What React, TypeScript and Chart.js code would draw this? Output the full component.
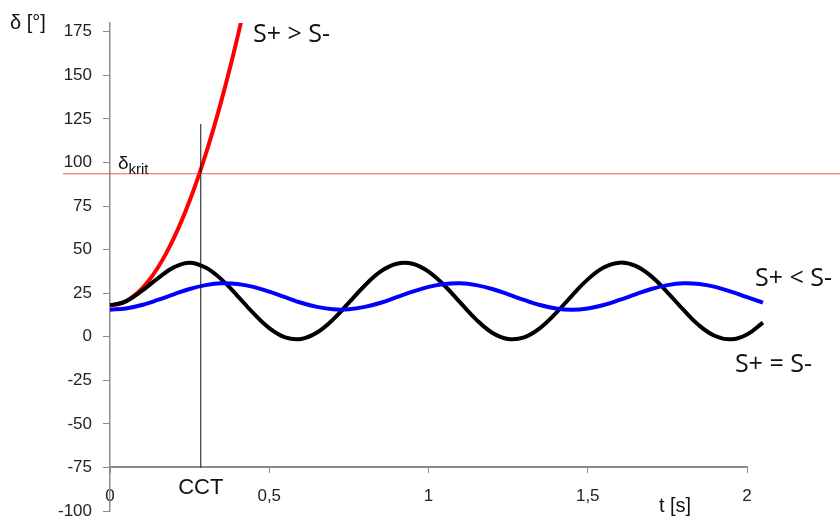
import React, { useEffect, useRef } from 'react';
import { Chart, registerables } from 'chart.js';

Chart.register(...registerables);

// ---- data ----
const timeValues = [
  0, 0.05, 0.1, 0.15, 0.2, 0.25, 0.3, 0.35, 0.4, 0.45,
  0.5, 0.55, 0.6, 0.65, 0.7, 0.75, 0.8, 0.85, 0.9, 0.95,
  1.0, 1.05, 1.1, 1.15, 1.2, 1.25, 1.3, 1.35, 1.4, 1.45,
  1.5, 1.55, 1.6, 1.65, 1.7, 1.75, 1.8, 1.85, 1.9, 1.95,
  2.0, 2.05,
];
// S+ = S- (black)
const equalValues = [
  18, 20.3, 26.3, 33.5, 39.8, 42.5, 39.7, 32.9, 23.5, 13.5,
  4.9, -0.4, -1.3, 2.4, 9.8, 19.5, 29.4, 37.5, 41.9, 41.9,
  37.4, 29.4, 19.5, 9.8, 2.3, -1.3, -0.4, 4.9, 13.5, 23.5,
  32.9, 39.7, 42.5, 40.6, 34.6, 25.5, 15.5, 6.4, 0.4, -1.5,
  1.3, 8.1,
];
// S+ < S- (blue)
const lessValues = [
  15.5, 16.2, 18.2, 21.1, 24.3, 27.4, 29.6, 30.7, 30.3, 28.6,
  25.9, 22.7, 19.5, 17.1, 15.7, 15.7, 17.1, 19.5, 22.7, 25.9,
  28.6, 30.3, 30.7, 29.6, 27.4, 24.3, 21.1, 18.2, 16.2, 15.5,
  16.2, 18.2, 21.1, 24.3, 27.4, 29.6, 30.7, 30.3, 28.6, 25.9,
  22.7, 19.5,
];
// S+ > S- (red)
const redTime = [
  0, 0.025, 0.05, 0.075, 0.1, 0.125, 0.15, 0.175, 0.2, 0.225,
  0.25, 0.275, 0.3, 0.325, 0.35, 0.375, 0.4, 0.425,
];
const greaterValues = [
  18, 18.6, 20.4, 23.4, 27.6, 33, 39.6, 47.4, 56.4, 66.6,
  78, 90.6, 104.4, 119.4, 135.6, 153, 171.6, 191.4,
];
const deltaKrit = 93.5;
const critLineTime = [-0.148, 2.3];
const cctTime = 0.285;
const cctRange = [-75, 122];

const xTickValues = [0, 0.5, 1, 1.5, 2];
const xTickLabels = ['0', '0,5', '1', '1,5', '2'];
const yTickValues = [-100, -75, -50, -25, 0, 25, 50, 75, 100, 125, 150, 175];
const yMin = -100;
const yMax = 180;
const xMin = 0;
const xMax = 2;
const xAxisCrossing = -75;

const pts = (xs: number[], ys: number[]) => xs.map((x, i) => ({ x, y: ys[i] }));

const SANS = '"Liberation Sans", Arial, sans-serif';
const LABEL = '"Open Sans", "Noto Sans", sans-serif';

const annotationPlugin = {
  id: 'annotations',
  afterDraw(chart: any) {
    const { ctx, chartArea } = chart;
    const x = chart.scales.x;
    const y = chart.scales.y;
    ctx.save();
    ctx.textBaseline = 'middle';
    ctx.fillStyle = '#111';

    // axis titles
    ctx.textAlign = 'left';
    ctx.font = `20px ${SANS}`;
    ctx.fillText('δ [°]', chartArea.left - 100, chartArea.top);
    ctx.textAlign = 'center';
    ctx.font = `20px ${SANS}`;
    ctx.fillText('t [s]', x.getPixelForValue(1.774), y.getPixelForValue(xAxisCrossing) + 39);

    // CCT
    ctx.font = `22px ${SANS}`;
    ctx.fillText('CCT', x.getPixelForValue(cctTime), y.getPixelForValue(xAxisCrossing) + 21);

    // δkrit
    ctx.textAlign = 'left';
    ctx.font = `19px ${SANS}`;
    const dx = x.getPixelForValue(0.025);
    ctx.fillText('δ', dx, y.getPixelForValue(99.5));
    const dw = ctx.measureText('δ').width;
    ctx.font = `15px ${SANS}`;
    ctx.fillText('krit', dx + dw, y.getPixelForValue(95.5));

    // curve labels
    ctx.font = `25px ${LABEL}`;
    ctx.fillText('S+ > S-', x.getPixelForValue(0.449), y.getPixelForValue(173));
    ctx.fillText('S+ < S-', x.getPixelForValue(2.025), y.getPixelForValue(33));
    ctx.fillText('S+ = S-', x.getPixelForValue(1.962), y.getPixelForValue(-16));
    ctx.restore();
  },
};

export default function App() {
  const ref = useRef<HTMLCanvasElement | null>(null);

  useEffect(() => {
    document.body.style.margin = '0';
    const canvas = ref.current;
    if (!canvas) return;
    const overflowRight = { left: 0, top: 0, right: 20, bottom: 0 };
    const chart = new Chart(canvas, {
      type: 'line',
      data: {
        datasets: [
          {
            data: pts(critLineTime, critLineTime.map(() => deltaKrit)),
            borderColor: 'rgba(228,40,40,0.75)',
            borderWidth: 1,
            pointRadius: 0,
            clip: false as any,
          },
          {
            data: pts([cctTime, cctTime], cctRange),
            borderColor: '#111',
            borderWidth: 1,
            pointRadius: 0,
          },
          {
            data: pts(timeValues, lessValues),
            borderColor: '#0000ff',
            borderWidth: 4,
            pointRadius: 0,
            tension: 0.4,
            clip: overflowRight as any,
          },
          {
            data: pts(timeValues, equalValues),
            borderColor: '#000000',
            borderWidth: 4,
            pointRadius: 0,
            tension: 0.4,
            clip: overflowRight as any,
          },
          {
            data: pts(redTime, greaterValues),
            borderColor: '#ff0000',
            borderWidth: 4,
            pointRadius: 0,
            tension: 0.4,
          },
        ],
      },
      options: {
        responsive: false,
        animation: false,
        layout: { padding: { left: 0, top: 23, right: 93, bottom: 11 } },
        plugins: { legend: { display: false }, tooltip: { enabled: false } },
        scales: {
          x: {
            type: 'linear',
            position: { y: xAxisCrossing } as any,
            afterDataLimits: (s: any) => {
              s.min = xMin;
              s.max = xMax;
            },
            afterBuildTicks: (s: any) => {
              s.ticks = xTickValues.map((v) => ({ value: v }));
            },
            afterFit: (s: any) => {
              s.paddingLeft = 0;
              s.paddingRight = 0;
            },
            border: { display: true, color: '#8c8c8c', width: 2 },
            grid: { drawOnChartArea: false, drawTicks: true, tickLength: 5, color: '#8c8c8c' },
            ticks: {
              padding: 14,
              color: '#222',
              font: { family: SANS, size: 17 },
              callback: (v: any) => {
                const i = xTickValues.indexOf(Number(v));
                return i >= 0 ? xTickLabels[i] : '';
              },
            },
          },
          y: {
            type: 'linear',
            min: yMin,
            max: yMax,
            afterBuildTicks: (s: any) => {
              s.ticks = yTickValues.map((v) => ({ value: v }));
            },
            afterFit: (s: any) => {
              s.width = 110;
              s.paddingTop = 0;
              s.paddingBottom = 0;
            },
            border: { display: true, color: '#8c8c8c', width: 1.5 },
            grid: { drawOnChartArea: false, drawTicks: true, tickLength: 7, color: '#8c8c8c' },
            ticks: {
              padding: 11,
              color: '#222',
              font: { family: SANS, size: 17 },
            },
          },
        },
      },
      plugins: [annotationPlugin],
    });
    return () => chart.destroy();
  }, []);

  return (
    <div style={{ width: 840, height: 522, background: '#fff' }}>
      <canvas ref={ref} width={840} height={522} />
    </div>
  );
}
